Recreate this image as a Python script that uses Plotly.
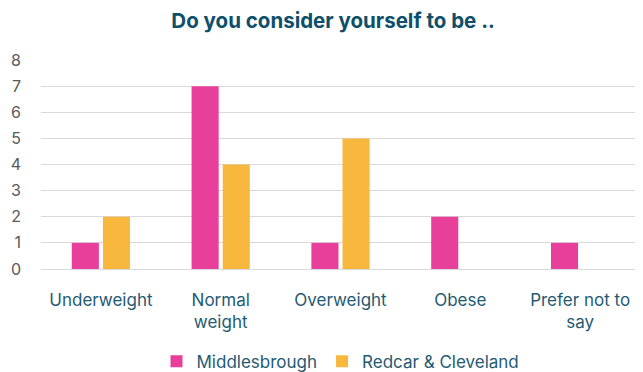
import plotly.graph_objects as go

categories = ["Underweight", "Normal<br>weight", "Overweight", "Obese", "Prefer not to<br>say"]
middlesbrough = [1, 7, 1, 2, 1]
redcar = [2, 4, 5, 0, 0]
y_ticks = [0, 1, 2, 3, 4, 5, 6, 7, 8]

FONT = "Inter, Lato, sans-serif"

fig = go.Figure()
fig.add_trace(go.Bar(x=categories, y=middlesbrough, name="Middlesbrough",
                     marker=dict(color="#E8409A", line=dict(width=0))))
fig.add_trace(go.Bar(x=categories, y=redcar, name="Redcar & Cleveland",
                     marker=dict(color="#F8B83E", line=dict(width=0))))

# page adds an 8px body margin, so the figure is sized 8px smaller on each axis
fig.update_layout(
    width=635, height=364,
    margin=dict(l=33, r=3, t=52, b=103, autoexpand=False),
    paper_bgcolor="white", plot_bgcolor="white",
    barmode="group", bargap=0.48, bargroupgap=0.13,
    font=dict(family=FONT),
    title=dict(text="<b>Do you consider yourself to be ..</b>",
               x=0.512, xref="container", xanchor="center",
               y=0.964, yref="container", yanchor="middle",
               font=dict(size=20.5, color="#0E4F6B", family=FONT)),
    legend=dict(orientation="h", x=0.5, xanchor="center",
                y=0.028, yref="container", yanchor="middle",
                font=dict(size=17, color="#1F5A73"), traceorder="normal",
                itemwidth=30),
    showlegend=True,
)
fig.update_xaxes(showgrid=False, showline=False, ticks="",
                 tickfont=dict(size=17, color="#1F5A73"), ticklabelstandoff=19)
fig.update_yaxes(range=[0, 8], tickvals=y_ticks, showgrid=True, gridcolor="#D9D9D9",
                 gridwidth=1, zeroline=True, zerolinecolor="#D9D9D9", zerolinewidth=1,
                 showline=False, ticks="", tickfont=dict(size=16, color="#595959"),
                 ticklabelstandoff=19)

fig.write_html("out.html")
